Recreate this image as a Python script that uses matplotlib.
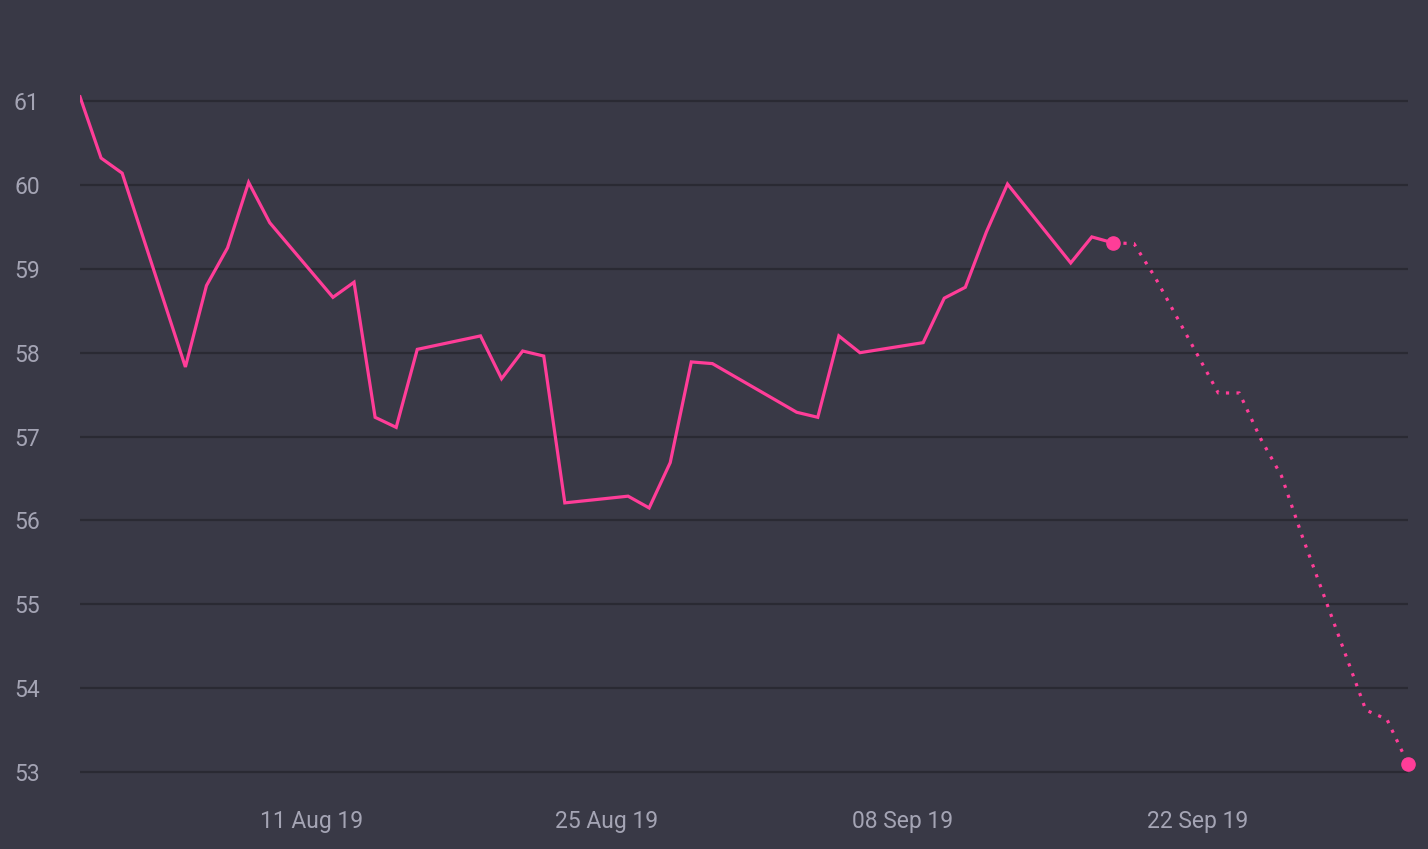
import matplotlib
matplotlib.use("Agg")
import matplotlib.pyplot as plt
import matplotlib.dates as mdates
import pandas as pd

# ---- data ----
actual_dates = ["2019-07-31", "2019-08-01", "2019-08-02", "2019-08-05", "2019-08-06",
                "2019-08-07", "2019-08-08", "2019-08-09", "2019-08-12", "2019-08-13",
                "2019-08-14", "2019-08-15", "2019-08-16", "2019-08-19", "2019-08-20",
                "2019-08-21", "2019-08-22", "2019-08-23", "2019-08-26", "2019-08-27",
                "2019-08-28", "2019-08-29", "2019-08-30", "2019-09-03", "2019-09-04",
                "2019-09-05", "2019-09-06", "2019-09-09", "2019-09-10", "2019-09-11",
                "2019-09-12", "2019-09-13", "2019-09-16", "2019-09-17", "2019-09-18"]
actual_values = [61.05, 60.32, 60.14, 57.83, 58.80,
                 59.25, 60.03, 59.55, 58.66, 58.84,
                 57.23, 57.11, 58.04, 58.20, 57.69,
                 58.02, 57.96, 56.21, 56.29, 56.15,
                 56.69, 57.89, 57.87, 57.29, 57.23,
                 58.20, 58.00, 58.12, 58.65, 58.78,
                 59.44, 60.01, 59.07, 59.38, 59.31]

forecast_dates = ["2019-09-18", "2019-09-19", "2019-09-20", "2019-09-23", "2019-09-24",
                  "2019-09-25", "2019-09-26", "2019-09-27", "2019-09-30", "2019-10-01",
                  "2019-10-02"]
forecast_values = [59.31, 59.30, 58.90, 57.52, 57.52,
                   56.98, 56.53, 55.80, 53.74, 53.63,
                   53.10]

y_ticks = [53, 54, 55, 56, 57, 58, 59, 60, 61]
x_tick_dates = ["2019-08-11", "2019-08-25", "2019-09-08", "2019-09-22"]

# ---- style ----
BG = "#393946"
GRID = "#2a2a33"
PINK = "#ff3d98"
TXT = "#a4a4b4"

ad = pd.to_datetime(actual_dates)
fd = pd.to_datetime(forecast_dates)

fig = plt.figure(figsize=(14.28, 8.49), dpi=100, facecolor=BG)
ax = fig.add_axes([80 / 1428, 49 / 849, 1328 / 1428, 800 / 849])
ax.set_facecolor(BG)

ax.plot(ad, actual_values, color=PINK, lw=2.3, solid_joinstyle="miter", zorder=3)
ax.plot(fd, forecast_values, color=PINK, lw=2.3, linestyle=(0, (1, 2.3)), zorder=3,
        clip_on=False)
ax.plot([fd[0], fd[-1]], [forecast_values[0], forecast_values[-1]], linestyle="none",
        marker="o", markersize=9.5, color=PINK, zorder=4, clip_on=False)

ax.set_xlim(ad[0], fd[-1])
ax.set_ylim(61 - 699 / 83.9, 61 + 101 / 83.9)

ax.set_yticks(y_ticks)
ax.set_xticks(pd.to_datetime(x_tick_dates))
ax.xaxis.set_major_formatter(mdates.DateFormatter("%d %b %y"))

ax.grid(axis="y", color=GRID, lw=1.6, zorder=1)
ax.grid(axis="x", visible=False)
for s in ax.spines.values():
    s.set_visible(False)

ax.tick_params(axis="both", length=0, colors=TXT, labelsize=16.5)
ax.tick_params(axis="y", pad=29)
ax.tick_params(axis="x", pad=7)
for lab in ax.get_xticklabels() + ax.get_yticklabels():
    lab.set_fontfamily("Roboto")
    lab.set_fontweight("normal")

fig.savefig("out.png", dpi=100, facecolor=BG)
